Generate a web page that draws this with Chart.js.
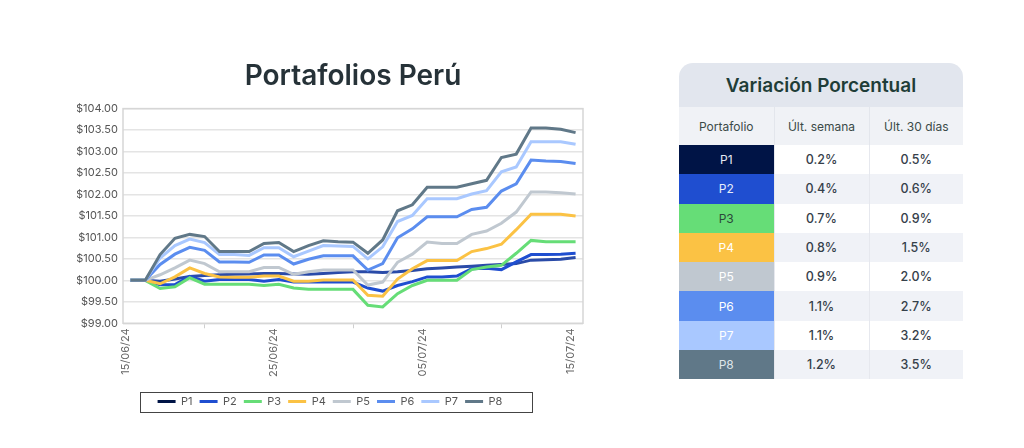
<!DOCTYPE html>
<html>
<head>
<meta charset="utf-8">
<script src="https://cdn.jsdelivr.net/npm/chart.js@4.4.1/dist/chart.umd.min.js"></script>
<style>
  html, body { margin: 0; padding: 0; background: #ffffff; width: 1024px; height: 448px; overflow: hidden; font-family: Inter, "Open Sans", sans-serif; }
  #wrap { position: absolute; left: 60px; top: 35px; width: 552px; height: 390px; }
  #tbl { position: absolute; left: 679px; top: 63px; width: 284px; border-radius: 14px 14px 0 0; overflow: hidden; }
  #tbl .hd { height: 44px; background: #e2e6ee; color: #1f3d38; font-size: 19px; font-weight: 600; display: flex; align-items: center; justify-content: center; }
  table { border-collapse: collapse; width: 284px; table-layout: fixed; }
  td, th { text-align: center; padding: 0; font-size: 12px; }
  th { height: 38px; background: #f0f2f6; color: #3b4a48; font-weight: 400; border-right: 1px solid #e3e6ec; }
  td { height: 29.3px; color: #35404a; font-weight: 500; font-size: 12.5px; border-right: 1px solid #e6e8ee; }
  tr.alt td { background: #f0f2f7; }
  td.p { font-weight: 400; font-size: 12px; }
</style>
</head>
<body>
<div id="wrap"><canvas id="c"></canvas></div>
<div id="tbl">
  <div class="hd">Variación Porcentual</div>
  <table id="t"></table>
</div>
<script>
const dates = ["15/06/24","16/06/24","17/06/24","18/06/24","19/06/24","20/06/24","21/06/24","22/06/24","23/06/24","24/06/24",
  "25/06/24","26/06/24","27/06/24","28/06/24","29/06/24","30/06/24","01/07/24","02/07/24","03/07/24","04/07/24",
  "05/07/24","06/07/24","07/07/24","08/07/24","09/07/24","10/07/24","11/07/24","12/07/24","13/07/24","14/07/24","15/07/24"];

const seriesNames = ["P1","P2","P3","P4","P5","P6","P7","P8"];
const seriesColors = ["#001446","#1f4ed0","#66dd77","#fbc244","#c0c8d0","#5b8def","#a9c8ff","#607888"];
const lineColors = ["#2a4ba8","#1f4ed0","#66dd77","#fbc244","#c0c8d0","#5b8def","#a9c8ff","#607888"];

const P1 = [100.00,100.00,99.98,100.03,100.09,100.11,100.13,100.14,100.15,100.16,100.16,100.15,100.14,100.16,100.18,100.20,100.20,100.18,100.20,100.23,100.27,100.29,100.31,100.33,100.35,100.37,100.39,100.47,100.48,100.49,100.53];
const P2 = [100.00,100.00,99.90,99.90,100.09,99.98,100.02,100.02,100.02,99.98,100.02,99.96,99.96,99.96,99.96,99.96,99.82,99.75,99.88,99.97,100.08,100.08,100.10,100.27,100.28,100.25,100.43,100.60,100.60,100.61,100.63];
const P3 = [100.00,100.00,99.81,99.85,100.06,99.91,99.91,99.91,99.91,99.88,99.91,99.82,99.79,99.79,99.79,99.79,99.42,99.38,99.69,99.88,100.00,100.00,100.00,100.25,100.31,100.35,100.63,100.93,100.90,100.90,100.90];
const P4 = [100.00,100.00,99.92,100.08,100.29,100.16,100.08,100.07,100.07,100.10,100.10,99.98,99.98,100.01,100.01,100.01,99.65,99.63,100.03,100.27,100.46,100.46,100.46,100.67,100.74,100.84,101.18,101.54,101.54,101.54,101.50];
const P5 = [100.00,100.00,100.13,100.29,100.47,100.39,100.20,100.20,100.20,100.30,100.30,100.14,100.20,100.24,100.24,100.24,99.89,99.96,100.42,100.61,100.89,100.86,100.86,101.07,101.15,101.33,101.59,102.06,102.06,102.04,102.01];
const P6 = [100.00,100.00,100.37,100.61,100.77,100.70,100.43,100.43,100.42,100.59,100.59,100.38,100.49,100.57,100.57,100.57,100.24,100.39,100.99,101.20,101.48,101.48,101.48,101.65,101.70,102.08,102.25,102.80,102.78,102.77,102.72];
const P7 = [100.00,100.00,100.52,100.81,100.96,100.88,100.60,100.60,100.58,100.76,100.76,100.55,100.68,100.81,100.80,100.79,100.50,100.78,101.37,101.51,101.90,101.90,101.90,102.01,102.09,102.53,102.64,103.23,103.23,103.23,103.17];
const P8 = [100.00,100.00,100.60,100.98,101.07,101.02,100.67,100.67,100.67,100.86,100.88,100.67,100.81,100.92,100.90,100.89,100.63,100.94,101.62,101.76,102.17,102.17,102.17,102.25,102.33,102.86,102.94,103.55,103.55,103.52,103.44];

const weekly = ["0.2%","0.4%","0.7%","0.8%","0.9%","1.1%","1.1%","1.2%"];
const month = ["0.5%","0.6%","0.9%","1.5%","2.0%","2.7%","3.2%","3.5%"];
const cellTextColors = ["#e6e9f2","#e6ecfa","#2b4a3a","#ffffff","#ffffff","#ffffff","#ffffff","#dfe5ea"];

const yMin = 99, yMax = 104, yStep = 0.5;
const labelEvery = 10;

// table
(function(){
  const t = document.getElementById('t');
  let h = '<colgroup><col style="width:95px"><col style="width:95px"><col style="width:94px"></colgroup>';
  h += '<tr><th>Portafolio</th><th>Últ. semana</th><th style="border-right:none">Últ. 30 días</th></tr>';
  seriesNames.forEach((n,i)=>{
    h += '<tr class="'+(i%2? 'alt':'')+'"><td class="p" style="background:'+seriesColors[i]+';color:'+cellTextColors[i]+'">'+n+'</td><td>'+weekly[i]+'</td><td style="border-right:none">'+month[i]+'</td></tr>';
  });
  t.innerHTML = h;
})();

const allData = [P1,P2,P3,P4,P5,P6,P7,P8];

const frame = {
  id: 'frame',
  afterDraw(chart) {
    const {ctx, chartArea: a} = chart;
    ctx.save();
    ctx.strokeStyle = '#d6d6d6';
    ctx.lineWidth = 1.5;
    ctx.strokeRect(a.left, a.top, a.right - a.left, a.bottom - a.top);
    const lg = chart.legend;
    if (lg && lg.legendHitBoxes && lg.legendHitBoxes.length) {
      const hb = lg.legendHitBoxes;
      const l = Math.min(...hb.map(b=>b.left)) - 18;
      const r = Math.max(...hb.map(b=>b.left + b.width)) + 29;
      const t = hb[0].top - 4;
      const b = hb[0].top + hb[0].height + 5;
      ctx.strokeStyle = '#444';
      ctx.lineWidth = 1;
      ctx.strokeRect(Math.round(l)+0.5, Math.round(t)+0.5, Math.round(r-l), Math.round(b-t));
    }
    ctx.restore();
  }
};

new Chart(document.getElementById('c'), {
  type: 'line',
  data: {
    labels: dates,
    datasets: allData.map((d,i)=>({
      label: seriesNames[i],
      data: d,
      borderColor: lineColors[i],
      backgroundColor: lineColors[i],
      borderWidth: 3,
      pointRadius: 0,
      tension: 0,
      order: 8 - i
    }))
  },
  options: {
    responsive: true,
    maintainAspectRatio: false,
    animation: false,
    layout: { padding: { left: 17, right: 29, bottom: 8 } },
    plugins: {
      title: {
        display: true,
        fullSize: false,
        text: 'Portafolios Perú',
        color: '#263238',
        font: { family: 'Inter', size: 28, weight: '600' },
        padding: { top: 25, bottom: 15 }
      },
      legend: {
        position: 'bottom',
        labels: {
          usePointStyle: true,
          pointStyle: 'line',
          pointStyleWidth: 18,
          boxWidth: 18,
          boxHeight: 3,
          padding: 7,
          color: '#555',
          font: { family: 'Inter', size: 11 },
          generateLabels(chart) {
            return chart.data.datasets.map((ds,i)=>({
              text: ds.label, fillStyle: seriesColors[i], strokeStyle: seriesColors[i],
              lineWidth: 3, pointStyle: 'line', datasetIndex: i, hidden: false, fontColor: '#555'
            }));
          }
        }
      },
      tooltip: { enabled: false }
    },
    scales: {
      x: {
        type: 'category',
        offset: true,
        grid: { offset: true, color: 'rgba(0,0,0,0)', tickColor: '#cfcfcf', tickLength: 5, drawOnChartArea: false },
        border: { display: false },
        ticks: {
          autoSkip: false, maxRotation: 90, minRotation: 90,
          color: '#666', font: { family: 'Inter', size: 11 }, labelOffset: -5, padding: 0,
          callback(v, i) { return i % labelEvery === 0 ? dates[i] : null; }
        },
        afterFit(scale) { scale.height += 12; }
      },
      y: {
        min: yMin, max: yMax,
        grid: { color: '#e4e4e4', lineWidth: 1.5, drawTicks: false },
        border: { display: false },
        ticks: {
          stepSize: yStep, padding: 5, color: '#555', font: { family: 'Inter', size: 11 },
          callback(v) { return '$' + Number(v).toFixed(2); }
        },
        afterFit(scale) { scale.width = 46; }
      }
    }
  },
  plugins: [frame]
});
</script>
</body>
</html>
